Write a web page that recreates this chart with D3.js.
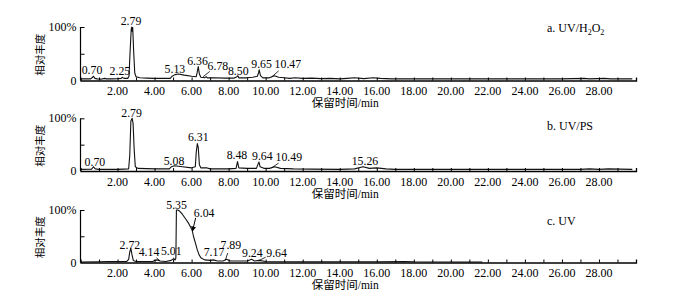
<!DOCTYPE html>
<html><head><meta charset="utf-8">
<script src="https://cdn.jsdelivr.net/npm/d3@7"></script>
<style>body{margin:0;background:#fff} svg{display:block}</style>
</head><body><svg id="c" width="692" height="301"></svg>
<script>
// ---------- DATA ----------
const xTickValues = [2,4,6,8,10,12,14,16,18,20,22,24,26,28];
const xTickLabels = ["2.00","4.00","6.00","8.00","10.00","12.00","14.00","16.00","18.00","20.00","22.00","24.00","26.00","28.00"];
const yTickLabels = ["0","100%"];
const xTitle = "保留时间/min";
const yTitle = "相对丰度";

// Panel a: UV/H2O2
const timeA = [0,0.3,0.55,0.65,0.70,0.78,0.9,1.1,1.3,1.4,1.7,2.0,2.2,2.25,2.35,2.55,2.62,2.68,2.74,2.77,2.79,2.82,2.87,2.93,3.0,3.2,3.6,4.0,4.5,4.85,4.95,5.1,5.3,5.6,6.0,6.25,6.30,6.36,6.42,6.5,6.7,6.78,6.85,7.2,7.8,8.3,8.45,8.50,8.55,9.0,9.3,9.55,9.62,9.65,9.72,9.85,10.2,10.47,10.7,11.0,11.3,11.6,12.0,12.5,13.0,13.5,14.0,14.4,14.8,15.3,15.8,16.2,16.8,17.5,22,26,27.2,27.5,28.3,28.6,29.8];
const abundA = [3,3,3,6,8,4,3,2.5,4,3,3,3.5,4,6,4,4,8,55,96,100,92,99,55,14,7,5,4.5,4,4,4,8,11,12,10,8,7,15,26,12,6,5,7,5,5,4.5,4.5,7,9,5,5,6,8,15,20,9,5,5,9,6,5,4,5,4,4.5,3.5,4,3,4,5,3.5,5,4,3,3,3,3,4,3,4,3,3];
const peakTextA  = ["0.70","2.25","2.79","5.13","6.36","6.78","8.50","9.65","10.47"];
const peakLabelTimeA  = [0.62,2.13,2.73,5.10,6.32,7.42,8.52,9.78,11.2];
const peakLabelLevelA = [12,10,104,14,29,20,10,23,23];
const leadersA = [[6.62,7,6.98,17],[10.32,6.5,10.7,18]];

// Panel b: UV/PS
const timeB = [0,0.6,0.70,0.8,1.0,2.0,2.6,2.66,2.72,2.79,2.84,2.9,2.96,3.1,4.0,4.8,4.9,5.08,5.5,6.0,6.2,6.25,6.31,6.36,6.42,6.5,6.8,7.0,8.0,8.4,8.48,8.55,9.0,9.5,9.6,9.64,9.7,9.9,10.2,10.49,10.8,11.5,12.5,14.0,14.8,15.26,15.6,16.0,16.5,17.0,22,27,27.5,28,28.5,29.8];
const abundB = [3,3.5,8,4,3,3,4,30,95,100,90,40,8,5,4,4,8,10,8,6,8,35,52,45,12,6,6,4,4,5,18,6,5,5,14,17,8,5,5,8,5,4,3.5,3,4,8,5,6,4,3,3,3,4,3,4,3];
const peakTextB  = ["0.70","2.79","5.08","6.31","8.48","9.64","10.49","15.26"];
const peakLabelTimeB  = [0.78,2.76,5.05,6.36,8.45,9.82,11.25,15.36];
const peakLabelLevelB = [10,103,12,57,23,21,19,11];
const leadersB = [[10.32,6,10.7,15]];

// Panel c: UV
const timeC = [0,1.0,1.5,2.0,2.5,2.6,2.66,2.72,2.78,2.85,3.0,3.5,3.9,4.0,4.14,4.3,4.6,4.9,5.01,5.1,5.15,5.18,5.25,5.35,5.5,5.7,5.85,6.0,6.04,6.1,6.2,6.3,6.4,6.5,6.7,7.0,7.17,7.4,7.7,7.89,8.1,8.5,9.0,9.24,9.4,9.64,10,12,16,17.5,18,21.7];
const abundC = [1,1.5,2,2,2,6,20,27,15,4,2,2,2,4,5,3,2,4,7,5,8,100,100,98,92,82,74,64,60,50,38,25,15,9,5,4,5,3,3,6,3,3,3,6,3,4,2,1.5,1.5,2,1.5,1];
const peakTextC  = ["2.72","4.14","5.01","5.35","6.04","7.17","7.89","9.24","9.64"];
const peakLabelTimeC  = [2.67,3.70,4.90,5.19,6.68,7.21,8.12,9.28,10.59];
const peakLabelLevelC = [26,13,14,102,87,12,26,10,10];
const leadersC = [[4.1,9,4.3,3],[5.0,9,5.12,5],[7.82,4,7.95,18],[9.64,4,10.0,10]];
const arrowsC = [[6.22,85,6.05,60]];

// ---------- LAYOUT ----------
const svg = d3.select("#c");
const serif = "'Liberation Serif','Times New Roman',serif";
const cjk = "'Liberation Serif','Noto Sans CJK SC',serif";
const x = d3.scaleLinear().domain([0,30]).range([80.5,636]);

svg.append("defs").append("marker").attr("id","ah")
  .attr("viewBox","0 0 10 10").attr("refX",9).attr("refY",5)
  .attr("markerWidth",5).attr("markerHeight",6).attr("orient","auto")
  .append("path").attr("d","M0,0L10,5L0,10Z").attr("fill","#000");

const panels = [
  {top:27, base:80.5, t:timeA, v:abundA, txt:peakTextA, lt:peakLabelTimeA, lv:peakLabelLevelA, leaders:leadersA, arrows:[]},
  {top:118.3, base:171, t:timeB, v:abundB, txt:peakTextB, lt:peakLabelTimeB, lv:peakLabelLevelB, leaders:leadersB, arrows:[]},
  {top:210, base:262.5, t:timeC, v:abundC, txt:peakTextC, lt:peakLabelTimeC, lv:peakLabelLevelC, leaders:leadersC, arrows:arrowsC}
];

panels.forEach(p => {
  const y = d3.scaleLinear().domain([0,100]).range([p.base, p.top]);
  const g = svg.append("g");

  const pts = p.t.map((d,i)=>[d,p.v[i]]);
  g.append("path").datum(pts)
    .attr("d", d3.line().x(d=>x(d[0])).y(d=>y(d[1])))
    .attr("fill","none").attr("stroke","#111").attr("stroke-width",1.1)
    .attr("stroke-linejoin","round");

  const xa = g.append("g").attr("transform",`translate(0,${p.base})`)
    .call(d3.axisBottom(x).tickValues(d3.range(1,30,1)).tickSize(-3).tickFormat(""));
  xa.select(".domain").attr("stroke","#000").attr("stroke-width",1.3);
  xa.selectAll(".tick line").attr("stroke","#000");
  xa.selectAll(".tick text").remove();
  xTickValues.forEach((tv,i)=>{
    g.append("text").attr("x",x(tv)).attr("y",p.base+14.5)
      .attr("text-anchor","middle").attr("font-family",serif).attr("font-size",12)
      .text(xTickLabels[i]);
  });
  g.append("text").attr("x",x(14.3)).attr("y",p.base+26.5)
    .attr("text-anchor","middle").attr("font-family",cjk).attr("font-size",11.5)
    .text(xTitle);

  const ya = g.append("g").attr("transform",`translate(${x(0)},0)`)
    .call(d3.axisRight(y).tickValues([50,100]).tickSize(4).tickFormat(""));
  ya.select(".domain").attr("stroke","#000").attr("stroke-width",1.2).attr("d",`M0,${p.top}V${p.base}`);
  ya.selectAll(".tick line").attr("stroke","#000");
  g.append("text").attr("x",x(0)-4).attr("y",y(0)+4).attr("text-anchor","end")
    .attr("font-family",serif).attr("font-size",12).text(yTickLabels[0]);
  g.append("text").attr("x",x(0)-4).attr("y",y(100)+4).attr("text-anchor","end")
    .attr("font-family",serif).attr("font-size",12).text(yTickLabels[1]);
  g.append("text").attr("transform",`translate(44,${(p.top+p.base)/2+1}) rotate(-90)`)
    .attr("text-anchor","middle").attr("font-family","'Noto Sans CJK SC',sans-serif").attr("font-size",10.5)
    .text(yTitle);

  p.txt.forEach((s,i)=>{
    g.append("text").attr("x",x(p.lt[i])).attr("y",y(p.lv[i]))
      .attr("text-anchor","middle").attr("font-family",serif).attr("font-size",11.8)
      .text(s);
  });
  p.leaders.forEach(l=>{
    g.append("line").attr("x1",x(l[0])).attr("y1",y(l[1])).attr("x2",x(l[2])).attr("y2",y(l[3]))
      .attr("stroke","#000").attr("stroke-width",0.8);
  });
  p.arrows.forEach(l=>{
    g.append("line").attr("x1",x(l[0])).attr("y1",y(l[1])).attr("x2",x(l[2])).attr("y2",y(l[3]))
      .attr("stroke","#000").attr("stroke-width",1).attr("marker-end","url(#ah)");
  });
});

const t1 = svg.append("text").attr("x",547).attr("y",32).attr("font-family",serif).attr("font-size",12);
t1.append("tspan").text("a. UV/H");
t1.append("tspan").attr("font-size",8).attr("dy",3).text("2");
t1.append("tspan").attr("dy",-3).text("O");
t1.append("tspan").attr("font-size",8).attr("dy",3).text("2");
svg.append("text").attr("x",547).attr("y",130).attr("font-family",serif).attr("font-size",12).text("b. UV/PS");
svg.append("text").attr("x",547).attr("y",225).attr("font-family",serif).attr("font-size",12).text("c. UV");
</script>
</body></html>
